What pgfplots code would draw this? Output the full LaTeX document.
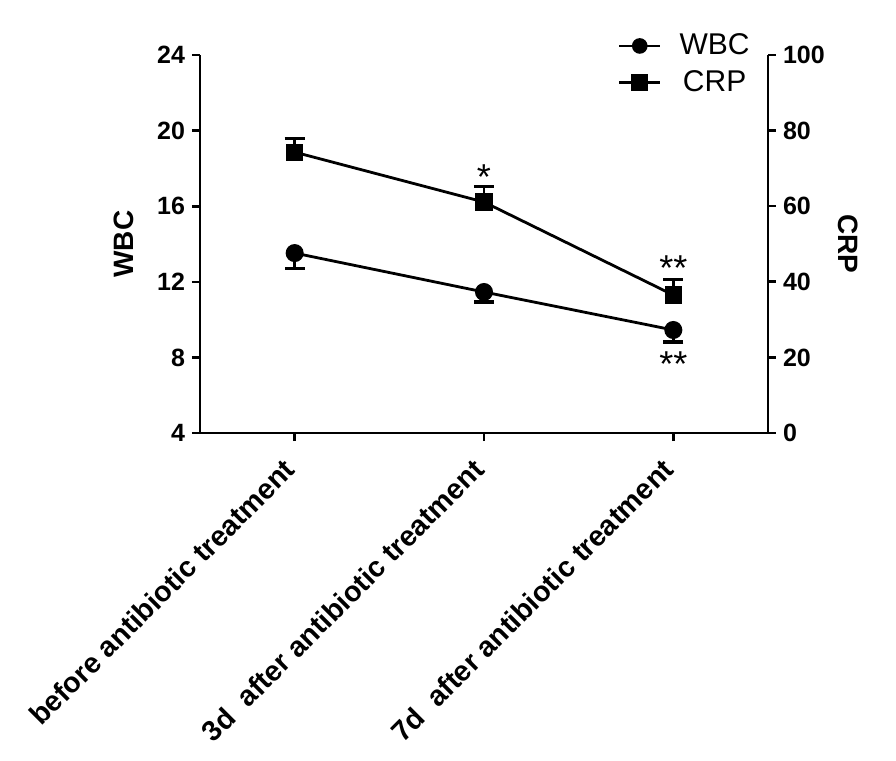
\documentclass[border=0pt]{standalone}
\usepackage{fontspec}
\setmainfont{Liberation Sans}
\usepackage{pgfplots}
\pgfplotsset{compat=1.18}

\pgfplotsset{
  common/.style={
    scale only axis, width=284pt, height=189pt,
    xmin=-0.5, xmax=2.5,
    tick align=outside,
    major tick length=4pt,
    axis line style={line width=1.3pt},
    tick style={line width=1.3pt, black},
    /pgf/number format/assume math mode=true,
    tick label style={font=\bfseries\fontsize{12.5}{12.5}\selectfont},
    label style={font=\bfseries\fontsize{14}{14}\selectfont},
    every axis plot/.append style={black, line width=1.4pt,
      error bars/error bar style={line width=1.4pt},
      error bars/error mark options={rotate=90, mark size=5pt, line width=1.6pt}},
  },
}

\begin{document}
\begin{tikzpicture}
\useasboundingbox (-100pt,-164pt) rectangle (348pt,216.5pt);
% left axis: WBC
\begin{axis}[common,
  axis y line*=left, axis x line*=bottom,
  ymin=4, ymax=24, ytick={4,8,12,16,20,24},
  xtick={0,1,2},
  xticklabels={before antibiotic treatment, 3d\ \ after antibiotic treatment, 7d\ \ after antibiotic treatment},
  x tick label style={rotate=45, anchor=north east, inner sep=1pt, xshift=-9pt, font=\bfseries\fontsize{14.3}{14.3}\selectfont},
  ylabel={WBC},
  ylabel style={at={(-38pt,0.5)}, anchor=center, rotate=0},
]
\addplot[mark=*, mark size=3.8pt,
  error bars/.cd, y dir=minus, y explicit]
  coordinates {
  (0,13.52) -= (0,0.80)
  (1,11.46) -= (0,0.53)
  (2,9.45)  -= (0,0.64)
};
\end{axis}
% right axis: CRP
\begin{axis}[common,
  axis y line*=right, axis x line=none,
  ymin=0, ymax=100, ytick={0,20,...,100},
  ylabel={CRP},
  ylabel style={at={(324pt,0.5)}, anchor=center, rotate=180},
  legend style={draw=none, fill=none, at={(0.735,1.062)}, anchor=north west,
    font=\fontsize{15}{15}\selectfont, row sep=4.5pt, inner sep=0pt,
    nodes={inner xsep=9pt, inner ysep=1pt}},
  legend image code/.code={
    \draw[mark repeat=2, mark phase=2] plot coordinates {(0cm,0cm) (0.36cm,0cm) (0.72cm,0cm)};},
]
\addlegendimage{black, line width=1.4pt, mark=*, mark size=3.2pt}
\addlegendentry{WBC}
\addplot[mark=square*, mark size=3.6pt,
  error bars/.cd, y dir=plus, y explicit]
  coordinates {
  (0,74.3) += (0,3.7)
  (1,61.1) += (0,4.2)
  (2,36.5) += (0,4.2)
};
\addlegendentry{CRP}
\node[font=\fontsize{18}{18}\selectfont] at (axis cs:1,67.8) {*};
\node[font=\fontsize{18}{18}\selectfont] at (axis cs:2,43.6) {**};
\node[font=\fontsize{18}{18}\selectfont] at (axis cs:2,18.1) {**};
\end{axis}
\end{tikzpicture}
\end{document}
